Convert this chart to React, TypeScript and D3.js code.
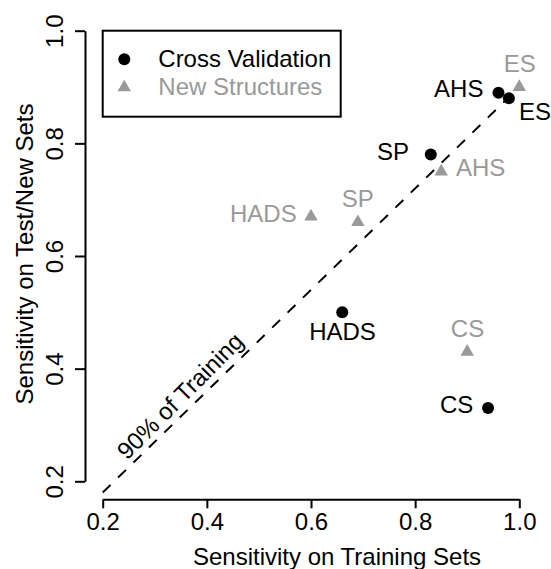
import React, { useEffect, useRef } from "react";
import * as d3 from "d3";

// ---- data ----
const cvNames = ["AHS", "ES", "SP", "HADS", "CS"];
const cvTrain = [0.96, 0.98, 0.83, 0.66, 0.94];
const cvTest = [0.89, 0.88, 0.78, 0.5, 0.33];

const nsNames = ["ES", "AHS", "HADS", "SP", "CS"];
const nsTrain = [1.0, 0.85, 0.6, 0.69, 0.9];
const nsTest = [0.9, 0.75, 0.67, 0.66, 0.43];

const xTicks = [0.2, 0.4, 0.6, 0.8, 1.0];
const yTicks = [0.2, 0.4, 0.6, 0.8, 1.0];
const seriesNames = ["Cross Validation", "New Structures"];
const refRatio = 0.9;
const refRange = [0.2, 1.0];
const refLabel = "90% of Training";
const xTitle = "Sensitivity on Training Sets";
const yTitle = "Sensitivity on Test/New Sets";

// ---- layout / style (not data) ----
const W = 551;
const H = 569;
const FONT = '"Liberation Sans", Arial, Helvetica, sans-serif';
const FS = 24;
const GRAY = "#999999";

const cvLabelCfg: Record<string, { anchor: string; dx: number; dy: number }> = {
  AHS: { anchor: "end", dx: -15, dy: 4.5 },
  ES: { anchor: "start", dx: 10, dy: 21.5 },
  SP: { anchor: "end", dx: -21.8, dy: 5.6 },
  HADS: { anchor: "middle", dx: 0.3, dy: 27.7 },
  CS: { anchor: "end", dx: -14.8, dy: 5.4 },
};
const nsLabelCfg: Record<string, { anchor: string; dx: number; dy: number }> = {
  ES: { anchor: "middle", dx: 0.4, dy: -14.7 },
  AHS: { anchor: "start", dx: 14.8, dy: 4.8 },
  HADS: { anchor: "end", dx: -14.3, dy: 5.3 },
  SP: { anchor: "middle", dx: -0.2, dy: -15.5 },
  CS: { anchor: "middle", dx: 0.3, dy: -15.1 },
};

export default function App() {
  const xAxisRef = useRef<SVGGElement>(null);
  const yAxisRef = useRef<SVGGElement>(null);

  const x = d3.scaleLinear().domain([0.2, 1.0]).range([102.7, 519.3]);
  const y = d3.scaleLinear().domain([0.2, 1.0]).range([481.3, 30.7]);

  const xAxisY = 499.3;
  const yAxisX = 85;

  useEffect(() => {
    if (xAxisRef.current) {
      const g = d3.select(xAxisRef.current);
      g.selectAll("*").remove();
      g.call(
        d3
          .axisBottom(x)
          .tickValues(xTicks)
          .tickSize(9)
          .tickSizeOuter(0)
          .tickPadding(5)
          .tickFormat(d3.format(".1f") as any)
      );
      g.select(".domain").attr("stroke", "#000").attr("stroke-width", 2);
      g.selectAll(".tick line").attr("stroke", "#000").attr("stroke-width", 2);
      g.selectAll(".tick text")
        .attr("fill", "#000")
        .style("font-family", FONT)
        .style("font-size", FS + "px");
      g.attr("font-family", null).attr("font-size", null);
    }
    if (yAxisRef.current) {
      const g = d3.select(yAxisRef.current);
      g.selectAll("*").remove();
      g.call(
        d3
          .axisLeft(y)
          .tickValues(yTicks)
          .tickSize(10)
          .tickSizeOuter(0)
          .tickPadding(5)
          .tickFormat(d3.format(".1f") as any)
      );
      g.select(".domain").attr("stroke", "#000").attr("stroke-width", 2);
      g.selectAll(".tick line").attr("stroke", "#000").attr("stroke-width", 2);
      g.selectAll(".tick text")
        .attr("fill", "#000")
        .attr("x", 0)
        .attr("y", -21.7)
        .attr("dy", 0)
        .attr("transform", "rotate(-90)")
        .attr("text-anchor", "middle")
        .style("font-family", FONT)
        .style("font-size", FS + "px");
      g.attr("font-family", null).attr("font-size", null);
    }
  });

  const tri = d3.symbol().type(d3.symbolTriangle).size(78)() as string;

  const refPts: [number, number][] = refRange.map((v) => [x(v), y(v * refRatio)]);
  const refLine = d3.line()(refPts) as string;

  const annX = x(0.36);
  const annY = y(0.341);

  return (
    <svg
      width={W}
      height={H}
      style={{ position: "absolute", left: 0, top: 0, background: "#fff" }}
      fontFamily={FONT}
      fontSize={FS}
    >
      <rect x={0} y={0} width={W} height={H} fill="#fff" />

      {/* axes */}
      <g ref={xAxisRef} transform={`translate(0,${xAxisY})`} />
      <g ref={yAxisRef} transform={`translate(${yAxisX},0)`} />

      {/* axis titles */}
      <text x={337} y={564.5} textAnchor="middle" fill="#000">
        {xTitle}
      </text>
      <text transform={`translate(32.5,254) rotate(-90)`} textAnchor="middle" fill="#000">
        {yTitle}
      </text>

      {/* reference line */}
      <path d={refLine} fill="none" stroke="#000" strokeWidth={2} strokeDasharray="11,10.5" />
      <text
        transform={`translate(${annX},${annY}) rotate(-45)`}
        textAnchor="middle"
        fill="#000"
      >
        {refLabel}
      </text>

      {/* legend */}
      <rect x={102.7} y={30.7} width={238} height={86} fill="#fff" stroke="#000" strokeWidth={2} />
      <circle cx={124.3} cy={59.3} r={6} fill="#000" />
      <path d={tri} transform="translate(124.3,87.5)" fill={GRAY} />
      <text x={158.3} y={66.8} fill="#000">
        {seriesNames[0]}
      </text>
      <text x={158.3} y={95.3} fill={GRAY}>
        {seriesNames[1]}
      </text>

      {/* new structures (triangles) */}
      {nsNames.map((n, i) => {
        const cx = x(nsTrain[i]);
        const cy = y(nsTest[i]);
        const c = nsLabelCfg[n];
        return (
          <g key={"ns" + n}>
            <path d={tri} transform={`translate(${cx},${cy})`} fill={GRAY} />
            <text x={cx + c.dx} y={cy + c.dy} textAnchor={c.anchor as any} fill={GRAY}>
              {n}
            </text>
          </g>
        );
      })}

      {/* cross validation (dots) */}
      {cvNames.map((n, i) => {
        const cx = x(cvTrain[i]);
        const cy = y(cvTest[i]);
        const c = cvLabelCfg[n];
        return (
          <g key={"cv" + n}>
            <circle cx={cx} cy={cy} r={6} fill="#000" />
            <text x={cx + c.dx} y={cy + c.dy} textAnchor={c.anchor as any} fill="#000">
              {n}
            </text>
          </g>
        );
      })}
    </svg>
  );
}
